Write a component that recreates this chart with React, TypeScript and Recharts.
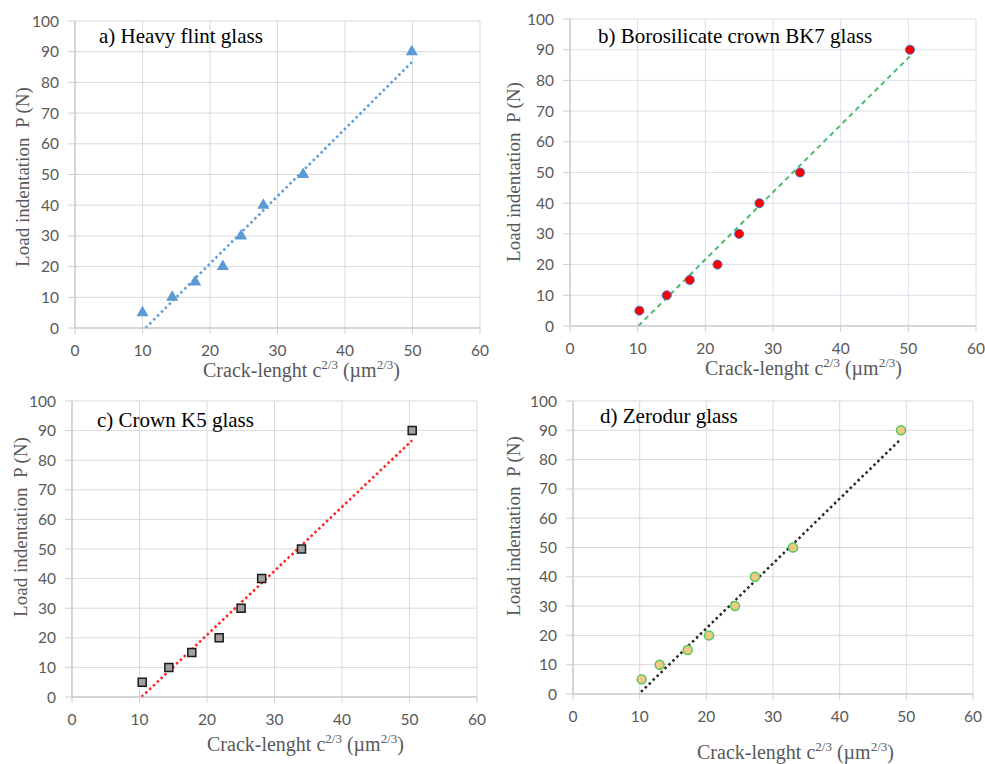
import React from "react";
import {
  CartesianGrid,
  Customized,
  ReferenceLine,
  Scatter,
  ScatterChart,
  XAxis,
  YAxis,
  ZAxis,
} from "recharts";

// load P (N), same for all four glasses
const loads = [5, 10, 15, 20, 30, 40, 50, 90];

// crack length c^(2/3)
const flintX = [10.0, 14.4, 17.8, 21.9, 24.6, 27.9, 33.8, 49.9];
const bk7X = [10.25, 14.3, 17.7, 21.8, 25.0, 28.0, 34.0, 50.25];
const k5X = [10.4, 14.35, 17.75, 21.8, 25.05, 28.1, 34.0, 50.4];
const zerodurX = [10.3, 13.0, 17.2, 20.4, 24.3, 27.3, 33.0, 49.2];

// linear trendline end points
const flintTrend = [{ x: 10.45, y: 0 }, { x: 49.9, y: 86.6 }];
const bk7Trend = [{ x: 10.1, y: 0 }, { x: 50.2, y: 87.8 }];
const k5Trend = [{ x: 10.3, y: 0 }, { x: 50.4, y: 86.7 }];
const zerodurTrend = [{ x: 10.2, y: 0.7 }, { x: 49.0, y: 86.6 }];

const xTicks = [0, 10, 20, 30, 40, 50, 60];
const yTicks = [0, 10, 20, 30, 40, 50, 60, 70, 80, 90, 100];

const toPoints = (xs: number[]) => xs.map((x, i) => ({ x, y: loads[i] }));

const SERIF = "'Liberation Serif', 'Times New Roman', serif";
const SANS = "Lato, 'Open Sans', sans-serif";
const GREY = "#595959";

type Panel = {
  title: string;
  xs: number[];
  trend: { x: number; y: number }[];
  box: [number, number, number, number]; // left, top, width, height
  margin: { top: number; right: number; bottom: number; left: number };
  grid: string;
  shape: "triangle" | "circle" | "square";
  size: number;
  fill: string;
  stroke: string;
  strokeWidth: number;
  trendColor: string;
  trendDash: string;
  trendWidth: number;
  titlePos: [number, number];
  xLabelPos: [number, number];
  yLabelPos: [number, number];
};

const panels: Panel[] = [
  {
    title: "a) Heavy flint glass",
    xs: flintX,
    trend: flintTrend,
    box: [0, 0, 490, 385],
    margin: { top: 21, right: 10, bottom: 27, left: 35 },
    grid: "#D9D9D9",
    shape: "triangle",
    size: 70,
    fill: "#5B9BD5",
    stroke: "#5B9BD5",
    strokeWidth: 0,
    trendColor: "#5B9BD5",
    trendDash: "2.5 3",
    trendWidth: 2.5,
    titlePos: [99, 43],
    xLabelPos: [203, 377],
    yLabelPos: [22, 177],
  },
  {
    title: "b) Borosilicate crown BK7 glass",
    xs: bk7X,
    trend: bk7Trend,
    box: [490, 0, 495, 385],
    margin: { top: 19, right: 9, bottom: 29, left: 40 },
    grid: "#DDE0EA",
    shape: "circle",
    size: 56,
    fill: "#FF0000",
    stroke: "#4472C4",
    strokeWidth: 1,
    trendColor: "#4CBB70",
    trendDash: "5 4",
    trendWidth: 2,
    titlePos: [598, 43],
    xLabelPos: [705, 375],
    yLabelPos: [513, 172],
  },
  {
    title: "c) Crown K5 glass",
    xs: k5X,
    trend: k5Trend,
    box: [0, 385, 490, 379],
    margin: { top: 16, right: 13, bottom: 37, left: 32 },
    grid: "#D9D9D9",
    shape: "square",
    size: 88,
    fill: "#A0A0A0",
    stroke: "#1a1a1a",
    strokeWidth: 1.5,
    trendColor: "#FF2020",
    trendDash: "2.5 2.8",
    trendWidth: 2.5,
    titlePos: [97, 427],
    xLabelPos: [207, 751],
    yLabelPos: [20, 527],
  },
  {
    title: "d) Zerodur glass",
    xs: zerodurX,
    trend: zerodurTrend,
    box: [490, 385, 495, 379],
    margin: { top: 16, right: 12, bottom: 40, left: 43 },
    grid: "#D9D9D9",
    shape: "circle",
    size: 64,
    fill: "#F0C987",
    stroke: "#56C95B",
    strokeWidth: 1.5,
    trendColor: "#262626",
    trendDash: "2.5 3",
    trendWidth: 2.5,
    titlePos: [600, 423],
    xLabelPos: [697, 759],
    yLabelPos: [513, 526],
  },
];

function PanelLabels({ p }: { p: Panel }) {
  const [ox, oy] = p.box;
  const [tx, ty] = p.titlePos;
  const [xx, xy] = p.xLabelPos;
  const [yx, yy] = p.yLabelPos;
  const cx = yx - ox;
  const cy = yy - oy;
  return (
    <g>
      <text x={tx - ox} y={ty - oy} fontFamily={SERIF} fontSize={21} fill="#000">
        {p.title}
      </text>
      <text x={xx - ox} y={xy - oy} fontFamily={SERIF} fontSize={20} fill={GREY}>
        <tspan>Crack-lenght c</tspan>
        <tspan fontSize={13} dy={-8}>2/3</tspan>
        <tspan dy={8}> (µm</tspan>
        <tspan fontSize={13} dy={-8}>2/3</tspan>
        <tspan dy={8}>)</tspan>
      </text>
      <text
        x={cx}
        y={cy}
        transform={`rotate(-90 ${cx} ${cy})`}
        textAnchor="middle"
        dominantBaseline="central"
        fontFamily={SERIF}
        fontSize={19}
        fill={GREY}
        style={{ whiteSpace: "pre" }}
      >
        Load indentation  P (N)
      </text>
    </g>
  );
}

function GlassChart({ p }: { p: Panel }) {
  const [left, top, width, height] = p.box;
  return (
    <div style={{ position: "absolute", left, top, width, height }}>
      <ScatterChart width={width} height={height} margin={p.margin}>
        <CartesianGrid stroke={p.grid} />
        <XAxis
          type="number"
          dataKey="x"
          domain={[0, 60]}
          ticks={xTicks}
          height={30}
          tickSize={6}
          tickMargin={11}
          axisLine={{ stroke: "#BFBFBF" }}
          tickLine={{ stroke: "#D0D0D0" }}
          tick={{ fill: GREY, fontSize: 15.5, fontFamily: SANS }}
        />
        <YAxis
          type="number"
          dataKey="y"
          domain={[0, 100]}
          ticks={yTicks}
          width={40}
          tickSize={7}
          tickMargin={9}
          axisLine={{ stroke: "#BFBFBF" }}
          tickLine={{ stroke: "#D0D0D0" }}
          tick={{ fill: GREY, fontSize: 15.5, fontFamily: SANS }}
        />
        <ZAxis range={[p.size, p.size]} />
        <ReferenceLine
          segment={p.trend}
          stroke={p.trendColor}
          strokeWidth={p.trendWidth}
          strokeDasharray={p.trendDash}
        />
        <Scatter
          data={toPoints(p.xs)}
          shape={p.shape}
          fill={p.fill}
          stroke={p.stroke}
          strokeWidth={p.strokeWidth}
          isAnimationActive={false}
        />
        <Customized component={() => <PanelLabels p={p} />} />
      </ScatterChart>
    </div>
  );
}

export default function App() {
  return (
    <div
      style={{
        position: "absolute",
        left: 0,
        top: 0,
        width: 985,
        height: 764,
        background: "#fff",
      }}
    >
      {panels.map((p) => (
        <GlassChart key={p.title} p={p} />
      ))}
    </div>
  );
}
